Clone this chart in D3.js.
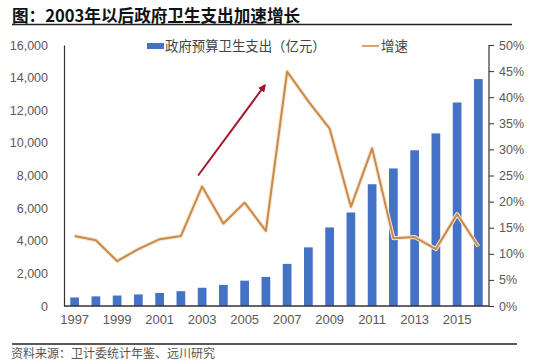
<!DOCTYPE html>
<html><head><meta charset="utf-8">
<script src="https://cdn.jsdelivr.net/npm/d3@7"></script>
<style>
body{margin:0;background:#fff;}
text{font-family:"Liberation Sans",Arial,"Noto Sans CJK SC",sans-serif;}
</style></head>
<body>
<svg id="c" width="550" height="364"></svg>
<script>
const years = [1997,1998,1999,2000,2001,2002,2003,2004,2005,2006,2007,2008,2009,2010,2011,2012,2013,2014,2015,2016];
const spending = [523,590,641,709,800,908,1117,1294,1553,1779,2582,3594,4816,5732,7464,8432,9546,10579,12475,13910];
const growth = [13.4,12.6,8.6,10.9,12.8,13.4,22.9,15.8,19.8,14.4,44.9,39.2,34.0,19.0,30.2,13.0,13.2,10.9,17.6,11.4];
const leftTicks = [0,2000,4000,6000,8000,10000,12000,14000,16000];
const rightTicks = [0,5,10,15,20,25,30,35,40,45,50];
const xLabels = [1997,1999,2001,2003,2005,2007,2009,2011,2013,2015];
const title = "图：2003年以后政府卫生支出加速增长";
const source = "资料来源：卫计委统计年鉴、远川研究";
const legendBar = "政府预算卫生支出（亿元）";
const legendLine = "增速";
// annotation arrow (in data space: year, growth %)
const arrow = [[2003,25],[2006,42.3]];

const svg = d3.select("#c");
const L=64, R=489, T=45, B=306;
const x = d3.scaleBand().domain(years).range([L,R]).paddingInner(0.59).paddingOuter(0.295);
const y = d3.scaleLinear().domain([0,16000]).range([B,T]);
const y2 = d3.scaleLinear().domain([0,50]).range([B,T]);
const cx = d => x(d)+x.bandwidth()/2;

// title
svg.append("text").attr("x",12).attr("y",22).attr("font-size",16.6).attr("font-weight","bold")
  .attr("fill","#111").style("font-family","'Noto Sans CJK SC',sans-serif").text(title);
svg.append("line").attr("x1",12).attr("x2",512).attr("y1",24.5).attr("y2",24.5).attr("stroke","#222").attr("stroke-width",1.5);

// bars
svg.append("g").selectAll("rect").data(years).join("rect")
  .attr("x",d=>x(d)).attr("width",x.bandwidth())
  .attr("y",(d,i)=>y(spending[i])).attr("height",(d,i)=>B-y(spending[i]))
  .attr("fill","#4472C4");

// line
const line = d3.line().x((d,i)=>cx(years[i])).y(d=>y2(d));
svg.append("path").datum(growth).attr("d",line).attr("fill","none")
  .attr("stroke","#F8E4CA").attr("stroke-width",4).attr("stroke-linejoin","round");
svg.append("path").datum(growth).attr("d",line).attr("fill","none")
  .attr("stroke","#C98A4E").attr("stroke-width",2).attr("stroke-linejoin","round");

// axes
const la = d3.axisLeft(y).tickValues(leftTicks).tickSize(0).tickPadding(16).tickFormat(d3.format(","));
const gl = svg.append("g").attr("transform",`translate(${L},0)`).call(la);
gl.select(".domain").attr("stroke","#333").attr("stroke-width",1.2);
gl.selectAll("text").attr("font-size",12.5).attr("fill","#595959");

const ra = d3.axisRight(y2).tickValues(rightTicks).tickSize(5).tickPadding(5).tickFormat(d=>d+"%");
const gr = svg.append("g").attr("transform",`translate(${R},0)`).call(ra);
gr.select(".domain").attr("stroke","#333").attr("stroke-width",1.2).attr("d",`M0,${T}V${B}`);
gr.selectAll(".tick line").attr("stroke","#333");
gr.selectAll("text").attr("font-size",12.5).attr("fill","#595959");

const ba = d3.axisBottom(x).tickValues(xLabels).tickSize(0).tickPadding(9);
const gb = svg.append("g").attr("transform",`translate(0,${B})`).call(ba);
gb.select(".domain").attr("stroke","#333").attr("stroke-width",1.5).attr("d",`M${L},0H${R}`);
gb.selectAll("text").attr("font-size",13).attr("fill","#595959");

// arrow
const defs = svg.append("defs");
defs.append("marker").attr("id","ah").attr("viewBox","0 0 10 10").attr("refX",8).attr("refY",5)
  .attr("markerWidth",4).attr("markerHeight",4).attr("orient","auto")
  .append("path").attr("d","M0,0L10,5L0,10z").attr("fill","#A3172F");
svg.append("line").attr("x1",cx(arrow[0][0])-4).attr("y1",y2(arrow[0][1]))
  .attr("x2",cx(arrow[1][0])-1).attr("y2",y2(arrow[1][1]))
  .attr("stroke","#A3172F").attr("stroke-width",2).attr("marker-end","url(#ah)");

// legend
const lg = svg.append("g").style("font-family","'Noto Sans CJK SC',sans-serif");
lg.append("rect").attr("x",147).attr("y",43).attr("width",17).attr("height",6).attr("fill","#4472C4");
lg.append("text").attr("x",165).attr("y",51).attr("font-size",13.4).attr("fill","#444").text(legendBar);
lg.append("line").attr("x1",362).attr("x2",379).attr("y1",46).attr("y2",46).attr("stroke","#D9A46E").attr("stroke-width",2);
lg.append("text").attr("x",381).attr("y",51).attr("font-size",13.4).attr("fill","#444").text(legendLine);

// footer
svg.append("line").attr("x1",12).attr("x2",517).attr("y1",344).attr("y2",344).attr("stroke","#222").attr("stroke-width",1.5);
svg.append("text").attr("x",11).attr("y",358).attr("font-size",12).attr("fill","#555")
  .style("font-family","'Noto Sans CJK SC',sans-serif").text(source);
</script>
</body></html>
